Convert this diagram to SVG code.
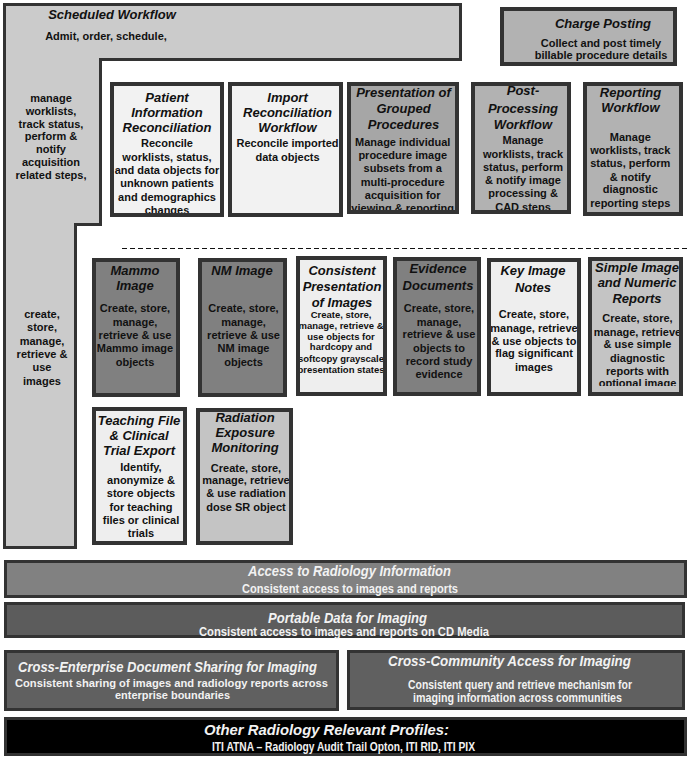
<svg xmlns="http://www.w3.org/2000/svg" width="690" height="759" viewBox="0 0 690 759">
<style>
.fr{fill:none;stroke:#333;stroke-width:4}
.bf{stroke:#333;stroke-width:3}
text{font-family:"Liberation Sans",Arial,sans-serif}
.t{font-style:italic;font-weight:bold;font-size:13px;fill:#111;text-anchor:middle}
.b{font-weight:bold;font-size:11px;fill:#111;text-anchor:middle}
.s{font-weight:bold;font-size:9.5px;fill:#111;text-anchor:middle}
.bt{font-style:italic;font-weight:bold;font-size:15.5px;fill:#f2f2f2}
.bs{font-weight:bold;font-size:12px;fill:#f2f2f2}
.bs2{font-weight:bold;font-size:10.5px;fill:#f2f2f2}
.light{fill:#f2f2f2}
.pale{fill:#eeeeee}
.mid{fill:#b2b2b2}
.dark{fill:#808080}
.silver{fill:#c4c4c4}
</style>
<defs>
<clipPath id="clipSimple"><rect x="592" y="261.5" width="87" height="124.5"/></clipPath>
</defs>
<rect x="0" y="0" width="690" height="759" fill="#ffffff"/>

<g id="scheduled-workflow">
<polygon points="4.5,4.5 460.5,4.5 460.5,59.5 100.5,59.5 100.5,224.5 75.5,224.5 75.5,547.5 4.5,547.5" fill="#cbcbcb" stroke="#333" stroke-width="3"/>
<text class="t" x="112" y="19">Scheduled Workflow</text>
<text class="b" x="106" y="40">Admit, order, schedule,</text>
<text class="b" x="51">
<tspan x="51" y="102">manage</tspan><tspan x="51" y="114.8">worklists,</tspan><tspan x="51" y="127.6">track status,</tspan><tspan x="51" y="140.4">perform &amp;</tspan><tspan x="51" y="153.2">notify</tspan><tspan x="51" y="166">acquisition</tspan><tspan x="51" y="178.8">related steps,</tspan>
</text>
<text class="b" x="42">
<tspan x="42" y="318">create,</tspan><tspan x="42" y="331.3">store,</tspan><tspan x="42" y="344.6">manage,</tspan><tspan x="42" y="357.9">retrieve &amp;</tspan><tspan x="42" y="371.2">use</tspan><tspan x="42" y="384.5">images</tspan>
</text>
</g>

<g id="charge-posting">
<rect class="mid" x="502" y="9" width="173" height="55"/>
<text class="t" x="603" y="28">Charge Posting</text>
<text class="b" x="601" y="47">Collect and post timely</text>
<text class="b" x="601" y="59">billable procedure details</text>
<rect class="fr" x="502" y="9" width="173" height="55"/>
</g>

<g id="patient-information-reconciliation">
<rect class="light" x="112" y="84" width="110" height="131"/>
<text class="t"><tspan x="167" y="101.7">Patient</tspan><tspan x="167" y="116.7">Information</tspan><tspan x="167" y="132.3">Reconciliation</tspan></text>
<text class="b"><tspan x="167" y="147.3">Reconcile</tspan><tspan x="167" y="160.6">worklists, status,</tspan><tspan x="167" y="173.9">and data objects for</tspan><tspan x="167" y="187.2">unknown patients</tspan><tspan x="167" y="200.5">and demographics</tspan><tspan x="167" y="213.8">changes</tspan></text>
<rect class="fr" x="112" y="84" width="110" height="131"/>
</g>

<g id="import-reconciliation-workflow">
<rect class="light" x="230" y="84" width="111" height="131"/>
<text class="t"><tspan x="287.5" y="101.7">Import</tspan><tspan x="287.5" y="116.7">Reconciliation</tspan><tspan x="287.5" y="132.3">Workflow</tspan></text>
<text class="b"><tspan x="287.5" y="147.3">Reconcile imported</tspan><tspan x="287.5" y="160.6">data objects</tspan></text>
<rect class="fr" x="230" y="84" width="111" height="131"/>
</g>

<g id="presentation-of-grouped-procedures">
<rect x="349" y="84" width="108" height="128" fill="#a6a6a6"/>
<text class="t"><tspan x="403.5" y="97">Presentation of</tspan><tspan x="403.5" y="113">Grouped</tspan><tspan x="403.5" y="129">Procedures</tspan></text>
<text class="b"><tspan x="402.7" y="145.7">Manage individual</tspan><tspan x="402.7" y="159">procedure image</tspan><tspan x="402.7" y="172.3">subsets from a</tspan><tspan x="402.7" y="185.7">multi-procedure</tspan><tspan x="402.7" y="199">acquisition for</tspan><tspan x="402.7" y="212.3">viewing &amp; reporting</tspan></text>
<rect class="fr" x="349" y="84" width="108" height="128"/>
</g>

<g id="post-processing-workflow">
<rect class="mid" x="473" y="84" width="96" height="128"/>
<text class="t"><tspan x="523" y="95">Post-</tspan><tspan x="523" y="112.7">Processing</tspan><tspan x="523" y="129.3">Workflow</tspan></text>
<text class="b"><tspan x="523" y="144">Manage</tspan><tspan x="523" y="158">worklists, track</tspan><tspan x="523" y="170.7">status, perform</tspan><tspan x="523" y="184">&amp; notify image</tspan><tspan x="523" y="197.3">processing &amp;</tspan><tspan x="523" y="210.7">CAD steps</tspan></text>
<rect class="fr" x="473" y="84" width="96" height="128"/>
</g>

<g id="reporting-workflow">
<rect class="mid" x="585" y="84" width="96" height="130"/>
<text class="t"><tspan x="630.5" y="96.7">Reporting</tspan><tspan x="630.5" y="111.7">Workflow</tspan></text>
<text class="b"><tspan x="630.3" y="140.7">Manage</tspan><tspan x="630.3" y="154">worklists, track</tspan><tspan x="630.3" y="167.3">status, perform</tspan><tspan x="630.3" y="180.7">&amp; notify</tspan><tspan x="630.3" y="193.3">diagnostic</tspan><tspan x="630.3" y="206.7">reporting steps</tspan></text>
<rect class="fr" x="585" y="84" width="96" height="130"/>
</g>

<g id="separator">
<line x1="122" y1="248.5" x2="690" y2="248.5" stroke="#111" stroke-width="1" stroke-dasharray="5,3"/>
</g>

<g id="mammo-image">
<rect class="dark" x="94" y="260" width="84" height="135"/>
<text class="t"><tspan x="135" y="275">Mammo</tspan><tspan x="135" y="290">Image</tspan></text>
<text class="b"><tspan x="135" y="312.3">Create, store,</tspan><tspan x="135" y="325.7">manage,</tspan><tspan x="135" y="339">retrieve &amp; use</tspan><tspan x="135" y="352.3">Mammo image</tspan><tspan x="135" y="365.7">objects</tspan></text>
<rect class="fr" x="94" y="260" width="84" height="135"/>
</g>

<g id="nm-image">
<rect class="dark" x="200" y="260" width="85" height="135"/>
<text class="t"><tspan x="242" y="275">NM Image</tspan></text>
<text class="b"><tspan x="243.5" y="312.3">Create, store,</tspan><tspan x="243.5" y="325.7">manage,</tspan><tspan x="243.5" y="339">retrieve &amp; use</tspan><tspan x="243.5" y="352.3">NM image</tspan><tspan x="243.5" y="365.7">objects</tspan></text>
<rect class="fr" x="200" y="260" width="85" height="135"/>
</g>

<g id="consistent-presentation-of-images">
<rect class="pale" x="298" y="258" width="87" height="136"/>
<text class="t"><tspan x="342" y="275">Consistent</tspan><tspan x="342" y="290.7">Presentation</tspan><tspan x="342" y="306.7">of Images</tspan></text>
<text class="s"><tspan x="341" y="317.8">Create, store,</tspan><tspan x="341" y="328.5">manage, retrieve &amp;</tspan><tspan x="341" y="339.5">use objects for</tspan><tspan x="341" y="350.2">hardcopy and</tspan><tspan x="341" y="361.8">softcopy grayscale</tspan><tspan x="341" y="372.5">presentation states</tspan></text>
<rect class="fr" x="298" y="258" width="87" height="136"/>
</g>

<g id="evidence-documents">
<rect class="dark" x="395" y="259" width="84" height="135"/>
<text class="t"><tspan x="438" y="273.3">Evidence</tspan><tspan x="438" y="290">Documents</tspan></text>
<text class="b"><tspan x="439" y="312.3">Create, store,</tspan><tspan x="439" y="325.7">manage,</tspan><tspan x="439" y="338.3">retrieve &amp; use</tspan><tspan x="439" y="351.7">objects to</tspan><tspan x="439" y="365">record study</tspan><tspan x="439" y="378">evidence</tspan></text>
<rect class="fr" x="395" y="259" width="84" height="135"/>
</g>

<g id="key-image-notes">
<rect class="pale" x="489" y="260" width="90" height="134"/>
<text class="t"><tspan x="533" y="275">Key Image</tspan><tspan x="533" y="291.7">Notes</tspan></text>
<text class="b"><tspan x="534" y="318.3">Create, store,</tspan><tspan x="534" y="331.7">manage, retrieve</tspan><tspan x="534" y="344.7">&amp; use objects to</tspan><tspan x="534" y="357.3">flag significant</tspan><tspan x="534" y="371.3">images</tspan></text>
<rect class="fr" x="489" y="260" width="90" height="134"/>
</g>

<g id="simple-image-and-numeric-reports">
<rect class="silver" x="590" y="259" width="91" height="135"/>
<g clip-path="url(#clipSimple)">
<text class="t"><tspan x="637" y="271.7">Simple Image</tspan><tspan x="637" y="287.3">and Numeric</tspan><tspan x="637" y="302.7">Reports</tspan></text>
<text class="b"><tspan x="637.5" y="322.3">Create, store,</tspan><tspan x="637.5" y="335.7">manage, retrieve</tspan><tspan x="637.5" y="348.3">&amp; use simple</tspan><tspan x="637.5" y="361.7">diagnostic</tspan><tspan x="637.5" y="374.7">reports with</tspan><tspan x="637.5" y="387.3">optional image</tspan></text>
</g>
<rect class="fr" x="590" y="259" width="91" height="135"/>
</g>

<g id="teaching-file-and-clinical-trial-export">
<rect class="pale" x="94" y="409" width="91" height="134"/>
<text class="t"><tspan x="139" y="425">Teaching File</tspan><tspan x="139" y="440">&amp; Clinical</tspan><tspan x="139" y="455">Trial Export</tspan></text>
<text class="b"><tspan x="141" y="471.3">Identify,</tspan><tspan x="141" y="484">anonymize &amp;</tspan><tspan x="141" y="497.3">store objects</tspan><tspan x="141" y="510.7">for teaching</tspan><tspan x="141" y="524">files or clinical</tspan><tspan x="141" y="537.3">trials</tspan></text>
<rect class="fr" x="94" y="409" width="91" height="134"/>
</g>

<g id="radiation-exposure-monitoring">
<rect class="silver" x="198" y="410" width="93" height="133"/>
<text class="t"><tspan x="245" y="421.7">Radiation</tspan><tspan x="245" y="436.7">Exposure</tspan><tspan x="245" y="451.7">Monitoring</tspan></text>
<text class="b"><tspan x="246" y="471.7">Create, store,</tspan><tspan x="246" y="484">manage, retrieve</tspan><tspan x="246" y="497.3">&amp; use radiation</tspan><tspan x="246" y="510.7">dose SR object</tspan></text>
<rect class="fr" x="198" y="410" width="93" height="133"/>
</g>

<g id="access-to-radiology-information">
<rect class="bf" x="5.5" y="561.5" width="680" height="35" fill="#818181"/>
<text class="bt" x="248" y="575.5" textLength="203" lengthAdjust="spacingAndGlyphs">Access to Radiology Information</text>
<text class="bs" x="242" y="592.5" textLength="216" lengthAdjust="spacingAndGlyphs">Consistent access to images and reports</text>
</g>

<g id="portable-data-for-imaging">
<rect class="bf" x="5.5" y="603.5" width="678" height="33" fill="#5c5c5c"/>
<text class="bt" x="268" y="622.5" textLength="159" lengthAdjust="spacingAndGlyphs">Portable Data for Imaging</text>
<text class="bs" x="199" y="635.5" textLength="290" lengthAdjust="spacingAndGlyphs">Consistent access to images and reports on CD Media</text>
</g>

<g id="xds-imaging">
<rect class="bf" x="5.5" y="651.5" width="332" height="58" fill="#606060"/>
<text class="bt" x="18" y="671.5" textLength="299" lengthAdjust="spacingAndGlyphs">Cross-Enterprise Document Sharing for Imaging</text>
<text class="bs2" x="15" y="687.3" textLength="313" lengthAdjust="spacingAndGlyphs">Consistent sharing of images and radiology reports across</text>
<text class="bs2" x="115" y="699" textLength="115" lengthAdjust="spacingAndGlyphs">enterprise boundaries</text>
</g>

<g id="xca-imaging">
<rect class="bf" x="348.5" y="651.5" width="335" height="57" fill="#606060"/>
<text class="bt" x="388" y="665.5" textLength="243" lengthAdjust="spacingAndGlyphs">Cross-Community Access for Imaging</text>
<text class="bs" x="408" y="688.5" textLength="224" lengthAdjust="spacingAndGlyphs">Consistent query and retrieve mechanism for</text>
<text class="bs" x="413" y="702.2" textLength="209" lengthAdjust="spacingAndGlyphs">imaging information across communities</text>
</g>

<g id="other-radiology-profiles">
<rect class="bf" x="5.5" y="718.5" width="680" height="36" fill="#000000"/>
<text class="bt" x="204" y="735" textLength="245" lengthAdjust="spacingAndGlyphs">Other Radiology Relevant Profiles:</text>
<text class="bs" x="212" y="751" textLength="263" lengthAdjust="spacingAndGlyphs">ITI ATNA – Radiology Audit Trail Opton, ITI RID, ITI PIX</text>
</g>
</svg>
